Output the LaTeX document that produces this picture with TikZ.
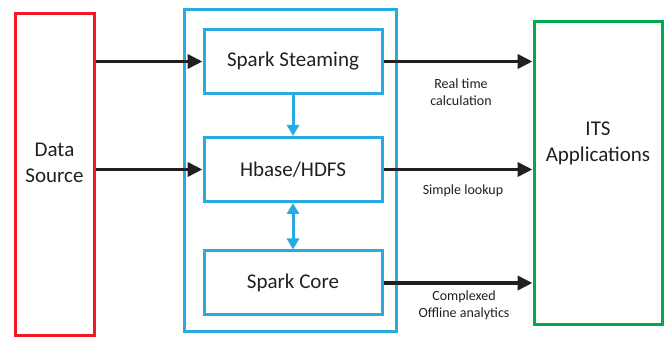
\documentclass[tikz,border=0pt]{standalone}
\usepackage{fontspec}
\setmainfont{Carlito}
\usepackage{tikz}
\usetikzlibrary{arrows.meta, calc}
\definecolor{srcred}{RGB}{237,28,36}
\definecolor{sparkblue}{RGB}{41,171,226}
\definecolor{itsgreen}{RGB}{0,170,78}
\definecolor{inkblack}{RGB}{35,31,32}
\tikzset{
    bigtext/.style={align=center, font=\fontsize{21}{26}\selectfont, text=inkblack},
    srcbox/.style={draw=srcred, line width=3pt},
    sparkbox/.style={draw=sparkblue, line width=3pt, minimum width=178pt, minimum height=64pt, bigtext},
    itsbox/.style={draw=itsgreen, line width=3pt},
    flow/.style={draw=inkblack, line width=3.6pt, -{Triangle[length=15pt, width=14pt]}},
    innerflow/.style={draw=sparkblue, line width=3pt, -{Triangle[length=11pt, width=12pt]}},
    note/.style={align=center, font=\fontsize{14}{17}\selectfont, text=inkblack}
}

\begin{document}
\begin{tikzpicture}[x=1pt, y=-1pt]
    \useasboundingbox (0,0) rectangle (665,339);

    % sources and sinks
    \node[srcbox, minimum width=79pt, minimum height=322pt] (src) at (54.5,175) {};
    \node[bigtext] (srctext) at ($(src.center)+(0,-12)$) {Data\\Source};
    \node[draw=sparkblue, line width=3pt, minimum width=212pt, minimum height=322pt] (spark) at (290,171) {};
    \node[itsbox, minimum width=128pt, minimum height=303pt] (its) at (598,173.5) {};
    \node[bigtext] (itstext) at ($(its.center)+(0,-30)$) {ITS\\Applications};

    % spark components
    \node[sparkbox] (steam) at (293,61.5) {Spark Steaming};
    \node[sparkbox] (hbase) at (293,169.5) {Hbase/HDFS};
    \node[sparkbox] (core) at (293,283) {Spark Core};

    % inputs
    \draw[flow] (src.east |- steam.west) -- (steam.west);
    \draw[flow] (src.east |- hbase.west) -- (hbase.west);

    % inside spark
    \draw[innerflow] (steam.south) -- (hbase.north);
    \draw[innerflow, {Triangle[length=11pt, width=12pt]}-{Triangle[length=11pt, width=12pt]}] (hbase.south) -- (core.north);

    % outputs
    \draw[flow] (steam.east) -- (its.west |- steam.east);
    \draw[flow] (hbase.east) -- (its.west |- hbase.east);
    \draw[flow] (core.east) -- (its.west |- core.east);

    \node[note] (rt) at (461,92) {Real time\\calculation};
    \node[note] (lookup) at (463,191) {Simple lookup};
    \node[note] (offline) at (464,305) {Complexed\\Offline analytics};
\end{tikzpicture}
\end{document}
